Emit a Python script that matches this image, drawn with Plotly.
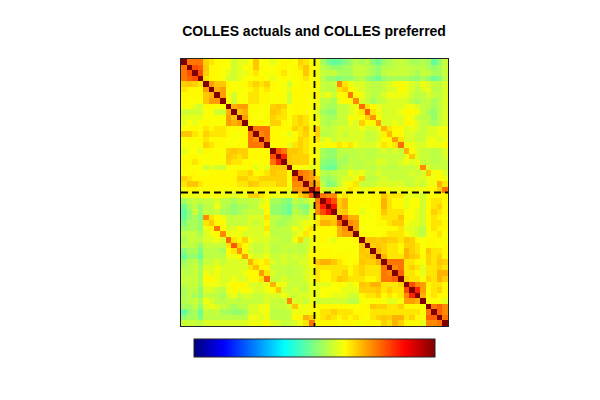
import numpy as np
import plotly.graph_objects as go

TITLE = "COLLES actuals and COLLES preferred"

# Upper triangle of the "actuals" block (rows start at the diagonal)
AA_UPPER = [
    [100,76,76,76,67,65,63,63,62,58,60,60,62,68,62,62,60,62,63,63,62,67,65,62],
    [100,80,78,68,63,63,62,62,58,60,62,63,68,63,62,62,63,63,62,63,65,68,63],
    [100,80,67,63,63,62,60,58,60,60,63,65,62,62,62,63,65,62,63,63,68,63],
    [100,65,63,63,62,58,58,60,62,62,63,63,62,60,62,63,62,62,63,65,62],
    [100,72,68,68,63,62,62,63,65,67,65,67,63,62,62,58,62,63,63,62],
    [100,70,72,63,62,62,62,63,65,63,65,63,62,62,60,63,63,63,63],
    [100,72,62,58,62,62,65,65,63,63,62,63,62,58,63,63,63,62],
    [100,63,58,62,62,65,65,63,63,62,62,62,58,63,63,63,62],
    [100,70,72,72,63,63,62,62,67,68,67,62,63,63,63,62],
    [100,68,70,63,62,62,62,68,67,65,62,63,63,63,62],
    [100,72,63,62,62,63,67,65,65,62,65,67,65,62],
    [100,63,63,63,62,67,67,63,62,65,67,65,62],
    [100,76,76,76,63,63,63,63,67,65,68,63],
    [100,74,76,63,63,62,60,63,65,67,63],
    [100,76,63,63,63,62,63,67,65,63],
    [100,63,63,63,60,65,67,65,63],
    [100,80,76,68,68,67,65,63],
    [100,84,68,67,67,67,63],
    [100,68,67,67,67,63],
    [100,62,62,62,60],
    [100,76,74,72],
    [100,74,72],
    [100,74],
    [100],
]

# Upper triangle of the "preferred" block
BB_UPPER = [
    [100,76,74,74,63,65,63,62,62,62,63,63,68,65,65,65,60,60,60,58,62,62,63,63],
    [100,85,80,67,70,63,63,63,62,63,63,70,65,63,63,60,62,62,58,63,65,65,63],
    [100,86,67,70,63,63,62,62,63,63,70,65,63,63,60,62,62,58,63,65,67,63],
    [100,67,68,63,63,60,62,62,63,68,65,65,65,62,62,60,58,63,67,65,63],
    [100,78,70,70,62,62,62,63,65,65,65,68,63,62,60,58,63,65,63,62],
    [100,74,72,62,62,62,63,63,65,67,67,62,60,60,58,63,65,65,63],
    [100,72,62,62,62,62,62,63,63,65,60,60,58,56,62,65,63,63],
    [100,63,62,62,62,63,65,65,65,62,60,58,56,62,63,65,62],
    [100,68,68,67,68,67,67,65,68,67,63,62,63,63,63,62],
    [100,67,68,67,65,65,63,67,67,65,62,63,63,62,63],
    [100,70,67,65,65,63,70,67,65,62,68,65,65,63],
    [100,70,65,65,65,70,68,67,63,67,65,67,63],
    [100,76,76,76,65,65,63,62,67,65,68,67],
    [100,74,76,65,67,65,60,65,65,67,65],
    [100,78,65,65,63,60,65,65,70,70],
    [100,67,65,65,62,67,65,70,67],
    [100,80,74,72,63,65,65,63],
    [100,84,72,63,65,67,63],
    [100,70,63,65,63,63],
    [100,62,62,62,60],
    [100,76,78,74],
    [100,78,74],
    [100,76],
    [100],
]

# Cross block: actuals (rows) against preferred (columns)
AB_BLOCK = [
    [61,54,49,47,48,50,53,56,54,56,51,48,53,55,56,57,56,54,54,55,54,47,52,57],
    [61,56,54,52,52,54,54,57,57,56,54,52,55,56,56,57,57,56,56,56,54,52,54,57],
    [61,57,56,57,54,54,54,57,57,56,54,52,56,57,57,57,57,56,54,57,56,54,54,57],
    [61,56,52,52,50,52,52,54,56,52,50,48,52,54,54,54,54,52,52,54,52,48,50,56],
    [63,57,56,57,74,65,61,59,59,57,56,56,57,59,61,63,61,59,57,61,59,57,56,59],
    [61,57,56,56,65,68,63,61,59,57,56,56,57,59,59,63,61,59,56,59,61,56,56,59],
    [63,59,61,57,63,63,76,63,61,57,56,56,59,61,61,61,61,57,56,56,59,57,56,59],
    [61,56,56,54,61,63,63,74,59,57,54,56,57,59,59,59,59,56,54,56,57,54,56,59],
    [61,56,54,54,57,57,59,61,77,65,63,61,59,59,59,59,61,61,59,57,56,54,56,59],
    [59,54,52,52,57,57,59,61,65,79,65,61,59,59,59,61,63,63,61,57,54,52,56,59],
    [61,56,54,54,57,57,63,61,63,67,73,63,59,59,59,59,63,61,57,56,56,52,56,59],
    [61,56,54,56,57,57,61,59,67,63,63,72,59,59,61,59,63,63,59,57,56,54,56,59],
    [67,57,56,57,59,59,59,59,61,59,59,61,70,65,63,63,59,61,59,57,59,59,61,61],
    [67,56,56,57,59,57,59,59,59,57,57,59,64,69,63,63,59,59,57,57,59,59,61,61],
    [65,59,61,57,59,59,59,59,59,57,57,59,63,63,72,65,59,59,57,57,61,61,59,61],
    [63,61,63,63,65,63,65,61,59,59,59,61,65,63,65,77,61,61,59,59,61,61,61,63],
    [61,54,52,52,56,56,56,56,57,56,56,57,59,57,59,57,70,63,59,57,57,56,56,59],
    [61,54,52,52,56,54,56,56,57,56,56,57,57,57,57,57,61,68,59,57,57,56,56,59],
    [61,52,50,50,54,54,56,56,56,57,57,59,59,57,57,59,61,59,61,57,57,56,56,57],
    [61,50,48,48,54,56,57,56,56,57,56,57,57,56,56,57,57,57,59,74,59,57,57,57],
    [63,56,54,56,57,57,61,59,61,57,57,59,57,57,57,57,57,59,57,59,68,61,63,59],
    [67,54,52,54,57,59,59,61,67,56,56,57,59,57,57,57,57,57,59,59,61,61,63,61],
    [70,56,50,52,57,61,63,65,57,57,57,59,59,59,59,59,57,57,59,57,61,61,70,65],
    [80,59,57,59,61,61,65,63,61,61,63,63,63,61,61,61,61,61,61,61,63,63,67,76],
]

JET = [[0, "#000080"], [0.125, "#0000ff"], [0.375, "#00ffff"],
       [0.625, "#ffff00"], [0.875, "#ff0000"], [1, "#800000"]]


def full(upper):
    n = len(upper)
    m = np.zeros((n, n))
    for i, row in enumerate(upper):
        m[i, i:] = row
        m[i:, i] = row
    return m


aa, bb, ab = full(AA_UPPER), full(BB_UPPER), np.array(AB_BLOCK, float)
z = np.block([[aa, ab], [ab.T, bb]])
n = len(aa)

fig = go.Figure(go.Heatmap(
    z=z, zmin=0, zmax=100, colorscale=JET,
    colorbar=dict(
        orientation="h", lenmode="pixels", len=241, thicknessmode="pixels", thickness=18,
        x=0.5, xanchor="center", y=-0.047, yanchor="top", xpad=0, ypad=0,
        outlinecolor="#222", outlinewidth=1, ticks="", showticklabels=False,
    ),
))
for kw in (dict(x0=n - 0.5, x1=n - 0.5, y0=-0.5, y1=2 * n - 0.5),
           dict(y0=n - 0.5, y1=n - 0.5, x0=-0.5, x1=2 * n - 0.5)):
    fig.add_shape(type="line", line=dict(color="black", width=1.8, dash="7px,4px"), **kw)

axis = dict(showticklabels=False, ticks="", showgrid=False, zeroline=False,
            showline=True, linecolor="#222", linewidth=1, mirror=True)
fig.update_xaxes(range=[-0.5, 2 * n - 0.5], **axis)
fig.update_yaxes(range=[2 * n - 0.5, -0.5], **axis)
fig.update_layout(
    width=592, height=392, autosize=False,
    margin=dict(l=172.5, r=152, t=51, b=74),
    paper_bgcolor="white", plot_bgcolor="white",
    title=dict(text=f"<b>{TITLE}</b>", x=0.517, xanchor="center", y=0.941, yanchor="middle",
               font=dict(family="Liberation Sans", size=14, color="black")),
)
fig.write_html("out.html")
